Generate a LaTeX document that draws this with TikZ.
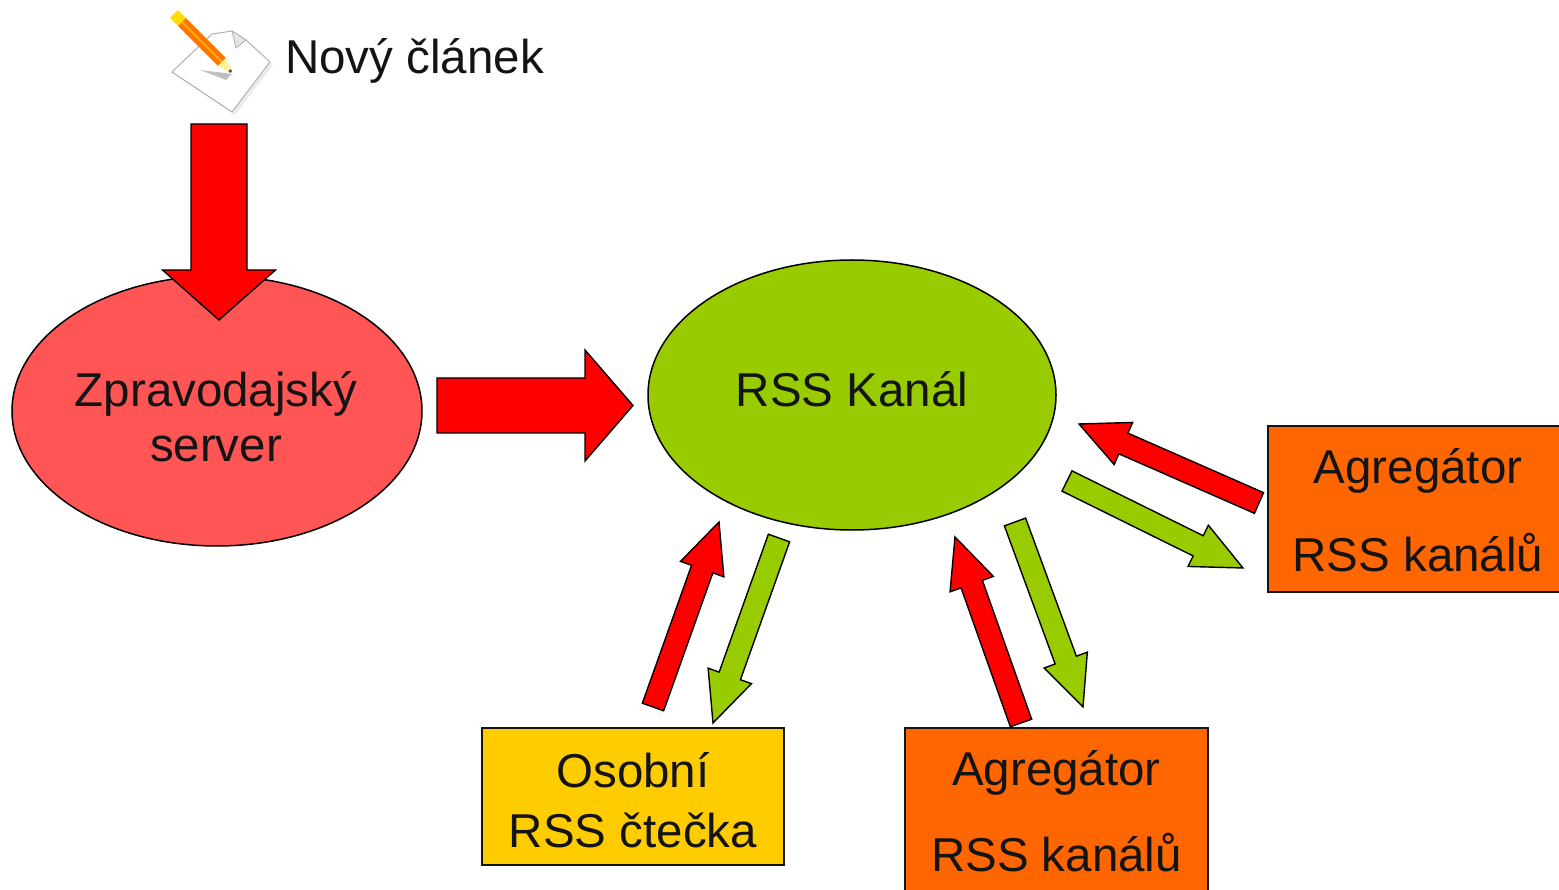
\documentclass[tikz,border=0pt]{standalone}
\usepackage{fontspec}
\setmainfont{Liberation Sans}
\usetikzlibrary{calc,shapes.geometric}
\definecolor{srvred}{RGB}{255,85,85}
\definecolor{arrred}{RGB}{255,0,0}
\definecolor{rssgreen}{RGB}{153,204,0}
\definecolor{boxyellow}{RGB}{255,204,0}
\definecolor{boxorange}{RGB}{255,102,0}
\definecolor{txtblack}{RGB}{20,20,20}
\newcommand{\myblockarrow}[6]{%
  \coordinate (ba-b) at ($(#3)!#6!(#2)$);
  \draw[#1] ($(#2)!#4!90:(#3)$) -- ($(ba-b)!#4!-90:(#2)$) -- ($(ba-b)!#5!-90:(#2)$) -- (#3)
    -- ($(ba-b)!#5!90:(#2)$) -- ($(ba-b)!#4!90:(#2)$) -- ($(#2)!#4!-90:(#3)$) -- cycle;
}
\tikzset{
  lbl/.style={font=\fontsize{47.5}{57}\selectfont, text=txtblack, inner sep=0pt, anchor=base},
  blob/.style={ellipse, draw=black, line width=1.5pt, inner sep=0pt},
  boxnode/.style={rectangle, draw=txtblack, line width=2pt, inner sep=0pt},
  redarrow/.style={fill=arrred, draw=black, line width=1.4pt, line join=miter},
  greenarrow/.style={fill=rssgreen, draw=black, line width=1.4pt, line join=miter},
}
\begin{document}
\begin{tikzpicture}[x=1pt,y=-1pt]
\useasboundingbox (0,0) rectangle (1559,890);
\fill[white] (0,0) rectangle (1559,890);

% icon: page with pencil
\coordinate (pg1) at (172,72);
\coordinate (pg2) at (212,34);
\coordinate (pg3) at (232,31);
\coordinate (pg4) at (246,40);
\coordinate (pg5) at (270,62);
\coordinate (pg6) at (232,112);
\fill[black!8] ($(pg1)+(3,3)$) -- ($(pg2)+(3,3)$) -- ($(pg3)+(3,3)$) -- ($(pg4)+(3,3)$) -- ($(pg5)+(3,3)$) -- ($(pg6)+(3,3)$) -- cycle;
\draw[black!30, line width=1pt, fill=white] (pg1) -- (pg2) -- (pg3) -- (pg4) -- (pg5) -- (pg6) -- cycle;
\draw[black!30, line width=0.8pt, fill=black!10] (pg3) -- (pg4) -- (236,48) -- cycle;
\fill[black!25] (200,70) -- (232,74) -- (226,80) -- cycle;
\coordinate (pc0) at (174,14);
\coordinate (pc1) at (182,22);
\coordinate (pc2) at (222,62);
\coordinate (pc3) at (233,74);
\fill[yellow!80!orange] ($(pc0)!5.5pt!90:(pc1)$) -- ($(pc0)!5.5pt!-90:(pc1)$) -- ($(pc1)!5.5pt!90:(pc0)$) -- ($(pc1)!5.5pt!-90:(pc0)$) -- cycle;
\fill[orange!90!red] ($(pc1)!5.5pt!90:(pc2)$) -- ($(pc1)!5.5pt!-90:(pc2)$) -- ($(pc2)!5.5pt!90:(pc1)$) -- ($(pc2)!5.5pt!-90:(pc1)$) -- cycle;
\draw[orange!60!yellow, line width=2pt] (pc1) -- (pc2);
\fill[orange!25!yellow!40] ($(pc2)!5.5pt!90:(pc3)$) -- ($(pc2)!5.5pt!-90:(pc3)$) -- (pc3) -- cycle;
\fill[black!70] ($(pc3)!4pt!(pc2)$) circle (1.8pt);

\node[lbl, anchor=base west] (novy) at (285,74) {Nový článek};

% main nodes
\node[blob, fill=srvred, minimum width=410pt, minimum height=270pt] (server) at (217,411) {};
\node[lbl] (servertxt1) at (216,407) {Zpravodajský};
\node[lbl] (servertxt2) at (216,462) {server};

\node[blob, fill=rssgreen, minimum width=408pt, minimum height=270pt] (rss) at (852,395) {};
\node[lbl] (rsstxt) at (852,407) {RSS Kanál};

\node[boxnode, fill=boxyellow, minimum width=302pt, minimum height=137pt] (reader) at (633,796.5) {};
\node[lbl] (readertxt1) at (633,787) {Osobní};
\node[lbl] (readertxt2) at (633,847) {RSS čtečka};

\node[boxnode, fill=boxorange, minimum width=303pt, minimum height=166pt] (aggA) at (1056.5,811) {};
\node[lbl] (aggAtxt1) at (1056.5,785) {Agregátor};
\node[lbl] (aggAtxt2) at (1056.5,871) {RSS kanálů};

\node[boxnode, fill=boxorange, minimum width=303pt, minimum height=166pt] (aggB) at (1419.5,509) {};
\node[lbl] (aggBtxt1) at (1418,483) {Agregátor};
\node[lbl] (aggBtxt2) at (1418,571) {RSS kanálů};

% arrow end points
\coordinate (dnT) at (219,124);  \coordinate (dnH) at (219,320);
\coordinate (rtT) at (437,405.5); \coordinate (rtH) at (633,405.5);
\coordinate (r1T) at (653,707);  \coordinate (r1H) at (719,522);
\coordinate (g1T) at (779,538);  \coordinate (g1H) at (713,723);
\coordinate (r2T) at (1021,723); \coordinate (r2H) at (955,537);
\coordinate (g2T) at (1015,522); \coordinate (g2H) at (1083,707);
\coordinate (r3T) at (1259,503); \coordinate (r3H) at (1079,424);
\coordinate (g3T) at (1067,481); \coordinate (g3H) at (1243,568);

\myblockarrow{redarrow}{dnT}{dnH}{28pt}{56.5pt}{50pt}
\myblockarrow{redarrow}{rtT}{rtH}{27.5pt}{55.5pt}{48pt}
\myblockarrow{redarrow}{r1T}{r1H}{11.3pt}{23pt}{50pt}
\myblockarrow{greenarrow}{g1T}{g1H}{11.3pt}{23pt}{50pt}
\myblockarrow{redarrow}{r2T}{r2H}{11.3pt}{23pt}{50pt}
\myblockarrow{greenarrow}{g2T}{g2H}{11.3pt}{23pt}{50pt}
\myblockarrow{redarrow}{r3T}{r3H}{11.3pt}{23pt}{48.5pt}
\myblockarrow{greenarrow}{g3T}{g3H}{11.3pt}{23pt}{50pt}
\end{tikzpicture}
\end{document}
